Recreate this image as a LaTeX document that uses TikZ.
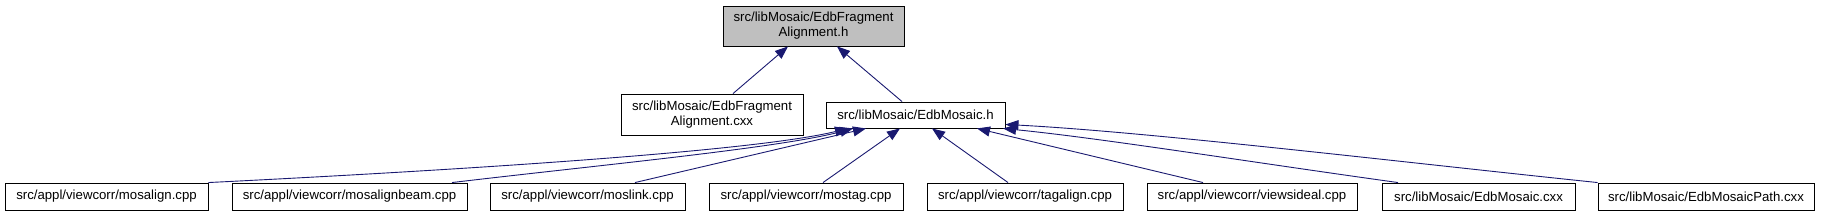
\documentclass[tikz,border=0pt]{standalone}
\usepackage{fontspec}
\setmainfont{Liberation Sans}
\usetikzlibrary{arrows.meta}
\definecolor{edgeblue}{HTML}{191970}
\definecolor{topgray}{HTML}{BFBFBF}
\begin{document}
\begin{tikzpicture}[x=1pt,y=-1pt,
  box/.style={draw=black, line width=0.9pt, fill=white, inner sep=0pt,
    font=\fontsize{13.2}{15}\selectfont, align=center, minimum height=27pt},
  edge/.style={draw=edgeblue, line width=0.9pt,
    -{Triangle[length=13pt,width=10pt]}}]
\useasboundingbox (0,0) rectangle (1825,216);

\node[box, fill=topgray, minimum width=181pt, minimum height=40pt] (top) at (813.5,26)
  {src/libMosaic/EdbFragment\\Alignment.h};
\node[box, minimum width=182pt, minimum height=41pt] (fragcxx) at (712,114.5)
  {src/libMosaic/EdbFragment\\Alignment.cxx};
\node[box, minimum width=179pt, minimum height=26pt] (mosaich) at (915.5,115)
  {src/libMosaic/EdbMosaic.h};

\node[box, minimum width=203pt] (mosalign) at (106.5,196.5) {src/appl/viewcorr/mosalign.cpp};
\node[box, minimum width=235pt] (mosalignbeam) at (349.5,196.5) {src/appl/viewcorr/mosalignbeam.cpp};
\node[box, minimum width=195pt] (moslink) at (587.5,196.5) {src/appl/viewcorr/moslink.cpp};
\node[box, minimum width=194pt] (mostag) at (806,196.5) {src/appl/viewcorr/mostag.cpp};
\node[box, minimum width=196pt] (tagalign) at (1025,196.5) {src/appl/viewcorr/tagalign.cpp};
\node[box, minimum width=210pt] (viewsideal) at (1252,196.5) {src/appl/viewcorr/viewsideal.cpp};
\node[box, minimum width=193pt] (edbcxx) at (1478.5,196.5) {src/libMosaic/EdbMosaic.cxx};
\node[box, minimum width=216pt] (edbpath) at (1706,196.5) {src/libMosaic/EdbMosaicPath.cxx};

% edges to top node
\draw[edge] ([xshift=21pt]fragcxx.north) -- ([xshift=-25.5pt]top.south);
\draw[edge] ([xshift=-13.5pt]mosaich.north) -- ([xshift=23.5pt]top.south);

% edges to EdbMosaic.h
\draw[edge] (mosalign.north east) .. controls (500,168) and (760,150) .. ([xshift=-67.5pt]mosaich.south);
\draw[edge] ([xshift=102.5pt]mosalignbeam.north) .. controls (600,165) and (780,148) .. ([xshift=-62.5pt]mosaich.south);
\draw[edge] ([xshift=47.5pt]moslink.north) -- ([xshift=-49.5pt]mosaich.south);
\draw[edge] ([xshift=17pt]mostag.north) -- ([xshift=-15.5pt]mosaich.south);
\draw[edge] ([xshift=-17pt]tagalign.north) -- ([xshift=16.5pt]mosaich.south);
\draw[edge] ([xshift=-49pt]viewsideal.north) -- ([xshift=61.5pt]mosaich.south);
\draw[edge] ([xshift=-80.5pt]edbcxx.north) .. controls (1250,162) and (1100,138) .. ([xshift=87.5pt]mosaich.south);
\draw[edge] (edbpath.north west) .. controls (1400,162) and (1150,132) .. ([yshift=4pt]mosaich.south east);
\end{tikzpicture}
\end{document}
